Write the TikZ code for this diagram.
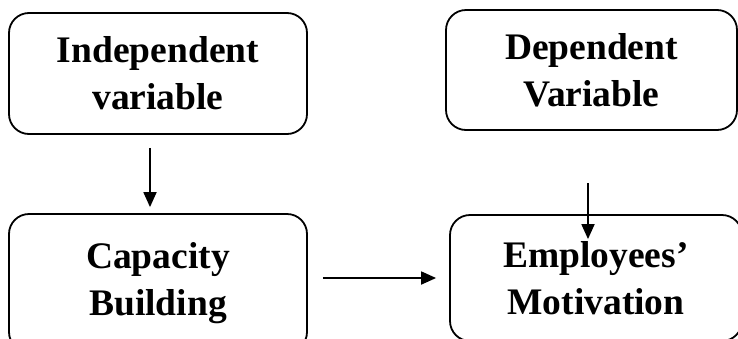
\documentclass[tikz,border=0pt]{standalone}
\usepackage{fontspec}
\setmainfont{Liberation Serif}
\usetikzlibrary{arrows.meta,calc}
\begin{document}
\begin{tikzpicture}[x=1pt,y=-1pt,
  box/.style={draw,line width=1.8pt,rounded corners=20pt,align=center,
    font=\bfseries\fontsize{37.5}{47}\selectfont,inner sep=0pt},
  arr/.style={line width=1.8pt,-{Triangle[length=15pt,width=13pt]}}]
\useasboundingbox (0,0) rectangle (738,338);
\begin{scope}
\clip (0,0) rectangle (738,338);
\node[box,minimum width=298pt,minimum height=121pt] (iv) at (158,73.5) {Independent\\variable};
\node[box,minimum width=291pt,minimum height=120pt] (dv) at (591.5,70) {Dependent\\Variable};
\node[box,minimum width=298pt,minimum height=138pt] (cb) at (158,283) {Capacity\\Building};
\node[box,minimum width=292pt,minimum height=126pt] (em) at (596,278) {Employees’\\Motivation};
\draw[arr] ($(iv.south)+(-8,13)$) -- ($(cb.north)+(-8,-6)$);
\draw[arr] ($(cb.east)+(15,-5)$) -- ($(em.west)+(-13,0)$);
\coordinate (a3) at (588,183);
\draw[arr] (a3) -- ($(em.north)+(-8,25)$);
\end{scope}
\end{tikzpicture}
\end{document}
